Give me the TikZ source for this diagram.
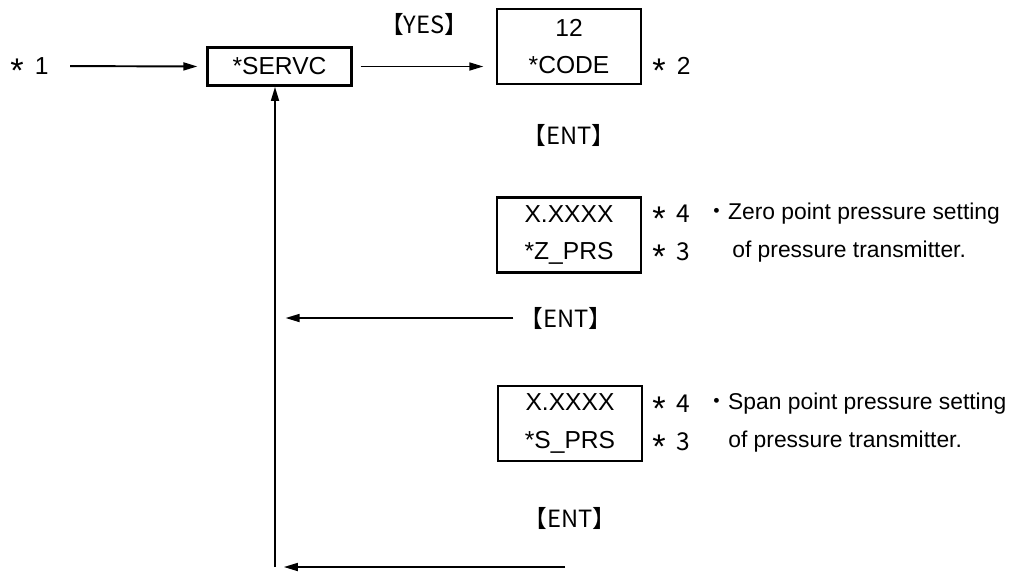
\documentclass[tikz,border=0pt]{standalone}
\usepackage{fontspec}
\setmainfont{Liberation Sans}
\newfontfamily\cjk{Noto Sans CJK JP}
\usetikzlibrary{
arrows.meta,
positioning
}
\newcommand{\kome}{\raisebox{-4.5pt}[0pt][0pt]{\fontsize{19.5}{19.5}\selectfont *}\hspace{2.5pt}}

\begin{document}
\begin{tikzpicture}[
x=0.02cm, y=-0.02cm,
box/.style={
draw,
line width=1.5pt,
minimum width=2.88cm,
minimum height=1.5cm,
inner sep=0pt,
align=center,
font=\fontsize{14}{21.5}\selectfont
},
key/.style={font=\cjk\fontsize{13.5}{16}\selectfont},
star/.style={anchor=west,inner sep=0pt,font=\fontsize{14}{17}\selectfont},
note/.style={anchor=west,inner sep=0pt,font=\fontsize{13}{16}\selectfont},
arrow/.style={-{Triangle[length=8pt,width=4.5pt]},line width=1.1pt}
]
\useasboundingbox (0,0) rectangle (1013,572);

\node[box,minimum height=0.76cm] (servc) at (279.5,66.5) {*SERVC};
\node[box] (code) at (569,46.5) {12\\*CODE};
\node[box] (zprs) at (569,235) {X.XXXX\\*Z\_PRS};
\node[box] (sprs) at (570,423.5) {X.XXXX\\*S\_PRS};

\node[star] (star1) at (10,66) {\kome\ 1};
\node[star] (star2) at (652,66) {\kome\ 2};

\node[key] (ent1) at (569,135) {【ENT】};
\node[key] (ent2) at (566,318) {【ENT】};
\node[key] (ent3) at (570,518) {【ENT】};

% zero point
\node[star] (z4) at (652,214) {\kome\ {\cjk 4}};
\node[star] (z3) at (652,252) {\kome\ {\cjk 3}};
\node[note] (znote) at (705,214) {{\cjk ・}Zero point pressure setting};
\node[note] at (732,252) {of pressure transmitter.};

% span point
\node[star] (s4) at (652,404) {\kome\ {\cjk 4}};
\node[star] (s3) at (652,442) {\kome\ {\cjk 3}};
\node[note] (snote) at (705,404) {{\cjk ・}Span point pressure setting};
\node[note] at (728,442) {of pressure transmitter.};

\coordinate (loop) at (275,567);
\coordinate (tail) at (565,567);

\draw[arrow,shorten <=12pt,shorten >=5pt] (star1.east) -- (servc.west);
\draw[arrow,shorten <=4.5pt,shorten >=7pt] (servc.east) -- node[key,above=14pt] (yes) {【YES】} (servc.east -| code.west);
\draw[arrow,shorten >=6pt] (ent2.west) -- (ent2.west -| loop);
\draw[arrow,shorten >=5pt] (tail) -- (loop);
\draw[arrow] (loop) -- (loop |- servc.south);

\end{tikzpicture}
\end{document}
